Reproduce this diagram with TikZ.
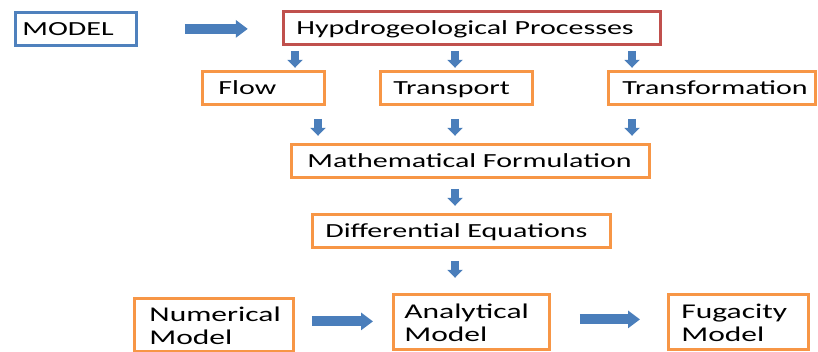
\documentclass[tikz,border=0pt]{standalone}
\usepackage{fontspec}
\setmainfont{Carlito}[FakeStretch=1.5]
\usetikzlibrary{arrows.meta}
\definecolor{orng}{HTML}{F79646}
\definecolor{redb}{HTML}{C0504D}
\definecolor{blueb}{HTML}{4F81BD}
\definecolor{arrblue}{HTML}{4A7EBB}
\begin{document}
\begin{tikzpicture}[x=1pt,y=-1pt,
  boxbase/.style={draw=orng, line width=2.8pt, fill=white, anchor=north west,
    inner xsep=13pt, inner ysep=0pt, align=left,
    font=\fontsize{20}{25}\selectfont},
  box/.style={boxbase, minimum height=33pt, text height=18pt, text depth=4pt},
  twoline/.style={boxbase, minimum height=55pt, text height=16pt, font=\fontsize{21}{22.5}\selectfont},
  darr/.style={-{Triangle[length=8pt,width=15pt]}, line width=8pt, arrblue},
  harr/.style={-{Triangle[length=12pt,width=17pt]}, line width=10pt, arrblue}]
\useasboundingbox (0,0) rectangle (818,352);
\node[box, draw=blueb, inner xsep=7pt, text width=107pt] (model) at (14,11) {MODEL};
\node[box, draw=redb, text width=351pt] (hydro) at (282,10) {Hypdrogeological Processes};
\node[box, inner xsep=16pt, text width=90pt] (flow) at (201,70) {Flow};
\node[box, text width=126pt] (transport) at (379,70) {Transport};
\node[box, inner xsep=14pt, text width=179pt] (transf) at (607,70) {Transformation};
\node[box, inner xsep=16pt, text width=326pt] (math) at (290,143) {Mathematical Formulation};
\node[box, text width=272pt] (diff) at (311,213) {Differential Equations};
\node[twoline, inner xsep=15pt, minimum height=53pt, text width=129pt] (num) at (133,297) {Numerical\\Model};
\node[twoline, inner xsep=11pt, text width=134pt] (ana) at (392,293) {Analytical\\Model};
\node[twoline, inner xsep=13pt, text width=114pt] (fug) at (667,293) {Fugacity\\Model};
% arrows
\draw[harr] ([xshift=47pt]model.east) -- ++(63,0);
\draw[darr] ([xshift=13pt,yshift=-5pt]hydro.south west) -- ++(0,17);
\draw[darr] ([xshift=173pt,yshift=-5pt]hydro.south west) -- ++(0,17);
\draw[darr] ([xshift=350pt,yshift=-5pt]hydro.south west) -- ++(0,17);
\draw[darr] ([xshift=117pt,yshift=-13pt]flow.south west) -- ++(0,17);
\draw[darr] ([xshift=76pt,yshift=-13pt]transport.south west) -- ++(0,17);
\draw[darr] ([xshift=25pt,yshift=-13pt]transf.south west) -- ++(0,17);
\draw[darr] ([xshift=165pt,yshift=-10pt]math.south west) -- ++(0,17);
\draw[darr] ([xshift=144pt,yshift=-12pt]diff.south west) -- ++(0,17);
\draw[harr] ([xshift=17pt,yshift=3.5pt]num.east) -- ([xshift=-19pt,yshift=0.5pt]ana.west);
\draw[harr] ([xshift=29pt,yshift=2.5pt]ana.east) -- ([xshift=-27pt,yshift=2.5pt]fug.west);
\end{tikzpicture}
\end{document}
